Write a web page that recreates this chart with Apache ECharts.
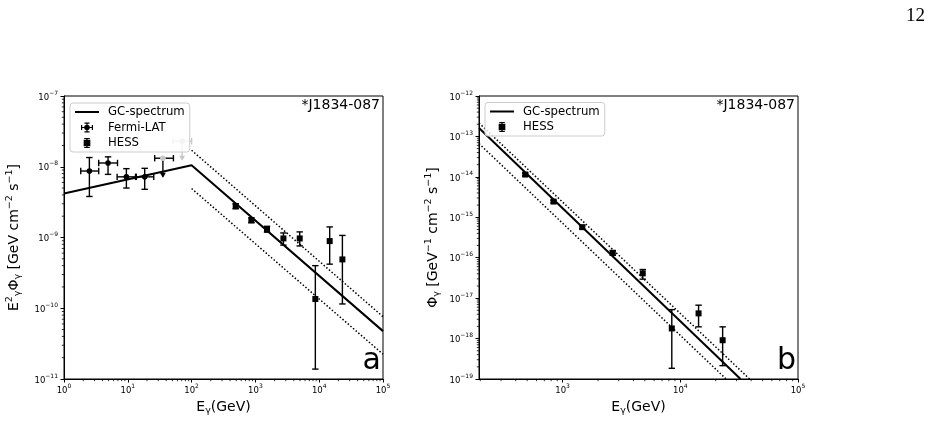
<!DOCTYPE html>
<html><head><meta charset="utf-8">
<script src="https://cdn.jsdelivr.net/npm/echarts@6/dist/echarts.min.js"></script>
<style>html,body{margin:0;padding:0;background:#fff}#c{width:933px;height:447px}</style>
</head><body><div id="c"></div>
<script>
// ---------- Panel a : E^2 Phi ----------
const fermiE      = [2.5, 4.9, 9.5, 18.4, 35.5, 71];
const fermiELo    = [1.83, 3.5, 6.8, 13.2, 26.4, 51];
const fermiEHi    = [3.5, 6.9, 13.6, 25.5, 51.9, 100];
const fermiE2F    = [8.7e-9, 1.13e-8, 7.2e-9, 7.2e-9, 1.32e-8, 2.3e-8];
const fermiE2FLo  = [3.8e-9, 7.8e-9, 5.0e-9, 4.8e-9, 7.2e-9, 1.26e-8];
const fermiE2FHi  = [1.35e-8, 1.38e-8, 9.4e-9, 9.5e-9, null, null];
const fermiUpperLimit = [false, false, false, false, true, true];

const hessEa      = [491, 865, 1520, 2750, 4950, 8700, 14600, 23100];
const hessE2F     = [2.77e-9, 1.75e-9, 1.31e-9, 9.7e-10, 9.7e-10, 1.35e-10, 8.9e-10, 4.9e-10];
const hessE2FLo   = [2.55e-9, 1.62e-9, 1.19e-9, 7.8e-10, 7.6e-10, 1.38e-11, 4.2e-10, 1.15e-10];
const hessE2FHi   = [3.0e-9, 1.9e-9, 1.44e-9, 1.16e-9, 1.2e-9, 4.0e-10, 1.41e-9, 1.07e-9];

const gcEa        = [1, 100, 1e5];
const gcE2F       = [4.18e-9, 1.05e-8, 4.75e-11];
const bandEa      = [100, 1e5];
const bandUpperA  = [1.71e-8, 7.6e-11];
const bandLowerA  = [4.92e-9, 2.24e-11];

// ---------- Panel b : Phi ----------
const hessEb      = [482, 838, 1470, 2670, 4800, 8470, 14300, 22900];
const hessPhi     = [1.14e-14, 2.45e-15, 5.7e-16, 1.32e-16, 4.1e-17, 1.78e-18, 4.2e-18, 9.1e-19];
const hessPhiLo   = [1.05e-14, 2.25e-15, 5.2e-16, 1.15e-16, 2.95e-17, 1.84e-19, 1.95e-18, 2.14e-19];
const hessPhiHi   = [1.24e-14, 2.65e-15, 6.2e-16, 1.5e-16, 5.1e-17, 5.2e-18, 6.7e-18, 1.95e-18];

const gcEb        = [195, 32500];
const gcPhi       = [1.62e-13, 1e-19];
const bandUpperEb = [195, 38800];
const bandUpperB  = [2.15e-13, 1e-19];
const bandLowerEb = [195, 24500];
const bandLowerB  = [6.65e-14, 1e-19];

// axis ranges and tick helpers
const xRangeA = [1, 1e5], yRangeA = [1e-11, 1e-7];
const xRangeB = [195, 1e5], yRangeB = [1e-19, 1e-12];
const minorMult = [2, 3, 4, 5, 6, 7, 8, 9];
const minorXaDec = [0, 1, 2, 3, 4];
const minorYaDec = [-11, -10, -9, -8];
const minorXbDec = [2, 3, 4];
const minorYbDec = [-19, -18, -17, -16, -15, -14, -13];

const FONT = 'DejaVu Sans';
function minorTicks(decs, range) {
  const out = [];
  decs.forEach(d => minorMult.forEach(m => {
    const v = m * Math.pow(10, d);
    if (v > range[0] && v < range[1]) out.push(v);
  }));
  return out;
}
function powLabel(v) {
  const e = Math.round(Math.log10(v));
  return '{b|10}{s|' + String(e).replace('-', '\u2212') + '}';
}
const tickRich = {
  b: {fontFamily: FONT, fontSize: 8.5, lineHeight: 12, verticalAlign: 'bottom', color: '#000'},
  s: {fontFamily: FONT, fontSize: 6, lineHeight: 12, verticalAlign: 'top', color: '#000'}
};
const nameRich = {
  b: {fontFamily: FONT, fontSize: 14, lineHeight: 18, verticalAlign: 'middle', color: '#000'},
  sup: {fontFamily: FONT, fontSize: 9.5, lineHeight: 18, verticalAlign: 'top', color: '#000'},
  sub: {fontFamily: FONT, fontSize: 9.5, lineHeight: 18, verticalAlign: 'bottom', color: '#000'}
};

function mainAxis(grid, range, extra) {
  return Object.assign({
    type: 'log', logBase: 10, gridIndex: grid, min: range[0], max: range[1],
    axisLine: {show: true, lineStyle: {color: '#000', width: 1}},
    axisTick: {show: true, length: 3.5, lineStyle: {color: '#000', width: 1}},
    splitLine: {show: false},
    nameLocation: 'middle'
  }, extra);
}

// minor ticks drawn through the axis scales
function minorTickSeries(axisIdx, vals, dir, otherMin) {
  return {
    type: 'custom', xAxisIndex: axisIdx, yAxisIndex: axisIdx, silent: true, clip: false, z: 5,
    data: vals.map(v => dir === 'x' ? [v, otherMin] : [otherMin, v]),
    renderItem: function (params, api) {
      const p = api.coord([api.value(0), api.value(1)]);
      const shape = dir === 'x'
        ? {x1: p[0], y1: p[1], x2: p[0], y2: p[1] + 2.2}
        : {x1: p[0] - 2.2, y1: p[1], x2: p[0], y2: p[1]};
      return {type: 'line', shape: shape, style: {stroke: '#000', lineWidth: 0.8}};
    }
  };
}

function errorBarRender(shape, greyIndex) {
  return function (params, api) {
    const x = api.value(0), y = api.value(1);
    const xlo = api.value(2), xhi = api.value(3), ylo = api.value(4), yhi = api.value(5), ul = api.value(6);
    const grey = params.dataIndex === greyIndex;
    const col = grey ? '#c8c8c8' : '#000';
    const mcol = (grey || ul) ? '#c8c8c8' : '#000';
    const lw = 1.4, cap = 3.2;
    const p = api.coord([x, y]);
    const st = {stroke: col, lineWidth: lw, fill: null};
    const ch = [];
    if (xlo !== xhi) {
      const a = api.coord([xlo, y]), b = api.coord([xhi, y]);
      ch.push({type: 'line', shape: {x1: a[0], y1: a[1], x2: b[0], y2: b[1]}, style: st});
      ch.push({type: 'line', shape: {x1: a[0], y1: a[1] - cap, x2: a[0], y2: a[1] + cap}, style: st});
      ch.push({type: 'line', shape: {x1: b[0], y1: b[1] - cap, x2: b[0], y2: b[1] + cap}, style: st});
    }
    const lo = api.coord([x, ylo]);
    if (ul) {
      ch.push({type: 'line', shape: {x1: p[0], y1: p[1], x2: lo[0], y2: lo[1]}, style: st});
      ch.push({type: 'polygon', shape: {points: [[lo[0] - 3, lo[1] - 4], [lo[0] + 3, lo[1] - 4], [lo[0], lo[1] + 1]]},
        style: {fill: col}});
    } else {
      const hi = api.coord([x, yhi]);
      ch.push({type: 'line', shape: {x1: lo[0], y1: lo[1], x2: hi[0], y2: hi[1]}, style: st});
      ch.push({type: 'line', shape: {x1: lo[0] - cap, y1: lo[1], x2: lo[0] + cap, y2: lo[1]}, style: st});
      ch.push({type: 'line', shape: {x1: hi[0] - cap, y1: hi[1], x2: hi[0] + cap, y2: hi[1]}, style: st});
    }
    if (shape === 'circle') {
      ch.push({type: 'circle', shape: {cx: p[0], cy: p[1], r: 2.8}, style: {fill: mcol}});
    } else {
      ch.push({type: 'rect', shape: {x: p[0] - 3, y: p[1] - 3, width: 6, height: 6}, style: {fill: '#000'}});
    }
    return {type: 'group', children: ch};
  };
}

const zip = (xs, ys) => xs.map((v, i) => [v, ys[i]]);
const fermiData = fermiE.map((e, i) => [e, fermiE2F[i], fermiELo[i], fermiEHi[i], fermiE2FLo[i],
  fermiE2FHi[i] == null ? fermiE2F[i] : fermiE2FHi[i], fermiUpperLimit[i] ? 1 : 0]);
const hessDataA = hessEa.map((e, i) => [e, hessE2F[i], e, e, hessE2FLo[i], hessE2FHi[i], 0]);
const hessDataB = hessEb.map((e, i) => [e, hessPhi[i], e, e, hessPhiLo[i], hessPhiHi[i], 0]);

const lineIcon = 'path://M0,0H24V2H0Z';
const fermiIcon = 'path://M0,4.4H12V5.6H0Z M0,2.5H1.2V7.5H0Z M10.8,2.5H12V7.5H10.8Z M5.4,0H6.6V10H5.4Z M3.5,0H8.5V1.2H3.5Z M3.5,8.8H8.5V10H3.5Z M8.8,5A2.8,2.8 0 1 1 3.2,5A2.8,2.8 0 1 1 8.8,5Z';
const hessIcon = 'path://M2.4,0H3.6V9H2.4Z M0.5,0H5.5V1H0.5Z M0.5,8H5.5V9H0.5Z M0,1.5H6V7.5H0Z';

const legendBase = {
  orient: 'vertical', itemWidth: 24, itemHeight: 10, itemGap: 3.5,
  padding: [3, 5, 3, 5], backgroundColor: 'rgba(255,255,255,0.8)', borderColor: '#cccccc',
  borderWidth: 1, borderRadius: 3, selectedMode: false, z: 8,
  textStyle: {fontFamily: FONT, fontSize: 11.7, color: '#000', padding: [0, 0, 0, 4]}
};

const lineStyleSolid = {color: '#000', width: 2};
const lineStyleDot = {color: '#000', width: 1.5, type: [1.5, 2]};

const chart = echarts.init(document.getElementById('c'), null, {renderer: 'canvas'});
chart.setOption({
  animation: false,
  backgroundColor: '#fff',
  textStyle: {fontFamily: FONT},
  grid: [
    {left: 64, top: 96, width: 319, height: 283, show: true, borderColor: '#000', borderWidth: 1, backgroundColor: 'transparent'},
    {left: 479, top: 96, width: 319, height: 283, show: true, borderColor: '#000', borderWidth: 1, backgroundColor: 'transparent'}
  ],
  xAxis: [
    mainAxis(0, xRangeA, {position: 'bottom', name: '{b|E}{sub|γ}{b|(GeV)}', nameGap: 19,
      nameTextStyle: {rich: nameRich}, axisLabel: {formatter: powLabel, rich: tickRich, margin: 4}}),
    mainAxis(1, xRangeB, {position: 'bottom', name: '{b|E}{sub|γ}{b|(GeV)}', nameGap: 19,
      nameTextStyle: {rich: nameRich}, axisLabel: {formatter: powLabel, rich: tickRich, margin: 4, showMinLabel: false}})
  ],
  yAxis: [
    mainAxis(0, yRangeA, {position: 'left',
      name: '{b|E}{sup|2}{sub|γ}{b|Φ}{sub|γ}{b| [GeV cm}{sup|\u22122}{b| s}{sup|\u22121}{b|]}',
      nameGap: 41, nameTextStyle: {rich: nameRich}, axisLabel: {formatter: powLabel, rich: tickRich, margin: 6}}),
    mainAxis(1, yRangeB, {position: 'left',
      name: '{b|Φ}{sub|γ}{b| [GeV}{sup|\u22121}{b| cm}{sup|\u22122}{b| s}{sup|\u22121}{b|]}',
      nameGap: 37, nameTextStyle: {rich: nameRich}, axisLabel: {formatter: powLabel, rich: tickRich, margin: 6}})
  ],
  legend: [
    Object.assign({}, legendBase, {left: 70, top: 103, data: [
      {name: 'GC-spectrum', icon: lineIcon, itemStyle: {color: '#000'}},
      {name: 'Fermi-LAT', icon: fermiIcon, itemStyle: {color: '#000'}},
      {name: 'HESS', icon: hessIcon, itemStyle: {color: '#000'}}
    ]}),
    Object.assign({}, legendBase, {left: 485, top: 102.5, data: [
      {name: 'GC-spectrum', icon: lineIcon, itemStyle: {color: '#000'}},
      {name: 'HESS', icon: hessIcon, itemStyle: {color: '#000'}}
    ]})
  ],
  series: [
    {name: 'GC-spectrum', type: 'line', xAxisIndex: 0, yAxisIndex: 0, data: zip(gcEa, gcE2F),
      symbol: 'none', lineStyle: lineStyleSolid, itemStyle: {color: '#000'}, z: 3},
    {name: 'band-up-a', type: 'line', xAxisIndex: 0, yAxisIndex: 0, data: zip(bandEa, bandUpperA),
      symbol: 'none', lineStyle: lineStyleDot, z: 3},
    {name: 'band-lo-a', type: 'line', xAxisIndex: 0, yAxisIndex: 0, data: zip(bandEa, bandLowerA),
      symbol: 'none', lineStyle: lineStyleDot, z: 3},
    {name: 'Fermi-LAT', type: 'custom', xAxisIndex: 0, yAxisIndex: 0, data: fermiData,
      renderItem: errorBarRender('circle', 5), clip: true, z: 4, itemStyle: {color: '#000'}},
    {name: 'HESS', type: 'custom', xAxisIndex: 0, yAxisIndex: 0, data: hessDataA,
      renderItem: errorBarRender('square', -1), clip: true, z: 4, itemStyle: {color: '#000'}},

    {name: 'GC-spectrum', type: 'line', xAxisIndex: 1, yAxisIndex: 1, data: zip(gcEb, gcPhi),
      symbol: 'none', lineStyle: lineStyleSolid, itemStyle: {color: '#000'}, z: 3},
    {name: 'band-up-b', type: 'line', xAxisIndex: 1, yAxisIndex: 1, data: zip(bandUpperEb, bandUpperB),
      symbol: 'none', lineStyle: lineStyleDot, z: 3},
    {name: 'band-lo-b', type: 'line', xAxisIndex: 1, yAxisIndex: 1, data: zip(bandLowerEb, bandLowerB),
      symbol: 'none', lineStyle: lineStyleDot, z: 3},
    {name: 'HESS', type: 'custom', xAxisIndex: 1, yAxisIndex: 1, data: hessDataB,
      renderItem: errorBarRender('square', -1), clip: true, z: 4, itemStyle: {color: '#000'}},

    minorTickSeries(0, minorTicks(minorXaDec, xRangeA), 'x', yRangeA[0]),
    minorTickSeries(0, minorTicks(minorYaDec, yRangeA), 'y', xRangeA[0]),
    minorTickSeries(1, minorTicks(minorXbDec, xRangeB), 'x', yRangeB[0]),
    minorTickSeries(1, minorTicks(minorYbDec, yRangeB), 'y', xRangeB[0])
  ],
  graphic: [
    {type: 'text', left: 906, top: 7, style: {text: '12', font: '19px "Liberation Serif"', fill: '#000'}},
    {type: 'text', x: 380, y: 98, style: {text: '*J1834-087', font: '14px "DejaVu Sans"', fill: '#000', align: 'right', verticalAlign: 'top'}},
    {type: 'text', x: 795, y: 98, style: {text: '*J1834-087', font: '14px "DejaVu Sans"', fill: '#000', align: 'right', verticalAlign: 'top'}},
    {type: 'text', x: 381, y: 361, z: 10, style: {text: 'a', font: '30px "DejaVu Sans"', fill: '#000', align: 'right', verticalAlign: 'middle'}},
    {type: 'text', x: 796, y: 361, z: 10, style: {text: 'b', font: '30px "DejaVu Sans"', fill: '#000', align: 'right', verticalAlign: 'middle'}}
  ]
});
</script></body></html>
